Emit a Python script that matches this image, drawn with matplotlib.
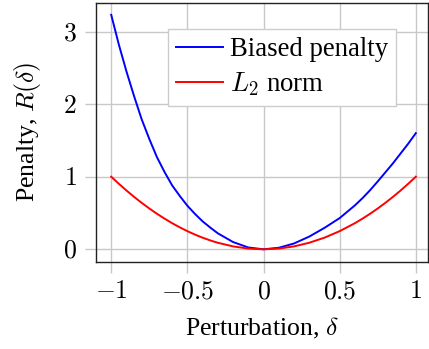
import matplotlib
matplotlib.use("Agg")
import matplotlib.pyplot as plt

# data
delta = [-1.0, -0.95, -0.9, -0.85, -0.8, -0.75, -0.7, -0.65, -0.6, -0.55, -0.5, -0.45, -0.4,
         -0.35, -0.3, -0.2, -0.1, 0.0, 0.1, 0.2, 0.3, 0.4, 0.5, 0.6, 0.65, 0.7, 0.75, 0.8,
         0.85, 0.9, 0.95, 1.0]
biased = [3.23, 2.82, 2.45, 2.11, 1.79, 1.52, 1.27, 1.065, 0.88, 0.735, 0.60, 0.487, 0.385,
          0.30, 0.22, 0.10, 0.025, 0.0, 0.021, 0.08, 0.175, 0.295, 0.43, 0.605, 0.705, 0.815,
          0.935, 1.06, 1.185, 1.32, 1.455, 1.60]
l2 = [1.0, 0.9025, 0.81, 0.7225, 0.64, 0.5625, 0.49, 0.4225, 0.36, 0.3025, 0.25, 0.2025, 0.16,
      0.1225, 0.09, 0.04, 0.01, 0.0, 0.01, 0.04, 0.09, 0.16, 0.25, 0.36, 0.4225, 0.49,
      0.5625, 0.64, 0.7225, 0.81, 0.9025, 1.0]
xticks = [-1, -0.5, 0, 0.5, 1]
xticklabels = ["$-1$", "$-0.5$", "$0$", "$0.5$", "$1$"]
yticks = [0, 1, 2, 3]
yticklabels = ["$0$", "$1$", "$2$", "$3$"]

plt.rcParams["font.family"] = ["Liberation Serif", "DejaVu Serif"]
plt.rcParams["mathtext.fontset"] = "cm"
FS = 18.5

W, H = 429, 349
fig = plt.figure(figsize=(W / 100, H / 100), dpi=100)
ax = fig.add_axes([96 / W, 1 - 262 / H, 332 / W, 259.5 / H])

ax.plot(delta, biased, color=(0, 0, 1), lw=1.4, label="Biased penalty", zorder=3)
ax.plot(delta, l2, color=(1, 0, 0), lw=1.4, label="$L_2$ norm", zorder=3)

ax.set_xlim(-1.1, 1.08)
ax.set_ylim(-0.175, 3.40)
ax.set_xticks(xticks)
ax.set_xticklabels(xticklabels, fontsize=FS)
ax.set_yticks(yticks)
ax.set_yticklabels(yticklabels, fontsize=FS)
ax.grid(True, color="#c8c8c8", lw=1.0)
ax.set_axisbelow(True)
ax.tick_params(axis="both", direction="out", length=8, width=1.0, color="#c8c8c8", pad=6)
for s in ax.spines.values():
    s.set_color("#222222")
    s.set_linewidth(1.0)

ax.set_xlabel(r"Perturbation, $\delta$", fontsize=FS, labelpad=9)
ax.set_ylabel(r"Penalty, $R(\delta)$", fontsize=FS, labelpad=14)

leg = ax.legend(loc="upper right", bbox_to_anchor=(0.904, 0.898), borderaxespad=0,
                fontsize=19.3, handlelength=1.75, handletextpad=0.25, labelspacing=0.32,
                borderpad=0.3, fancybox=False, framealpha=1, edgecolor="#cccccc")
leg.get_frame().set_linewidth(1.0)

fig.savefig("out.png", dpi=100)
